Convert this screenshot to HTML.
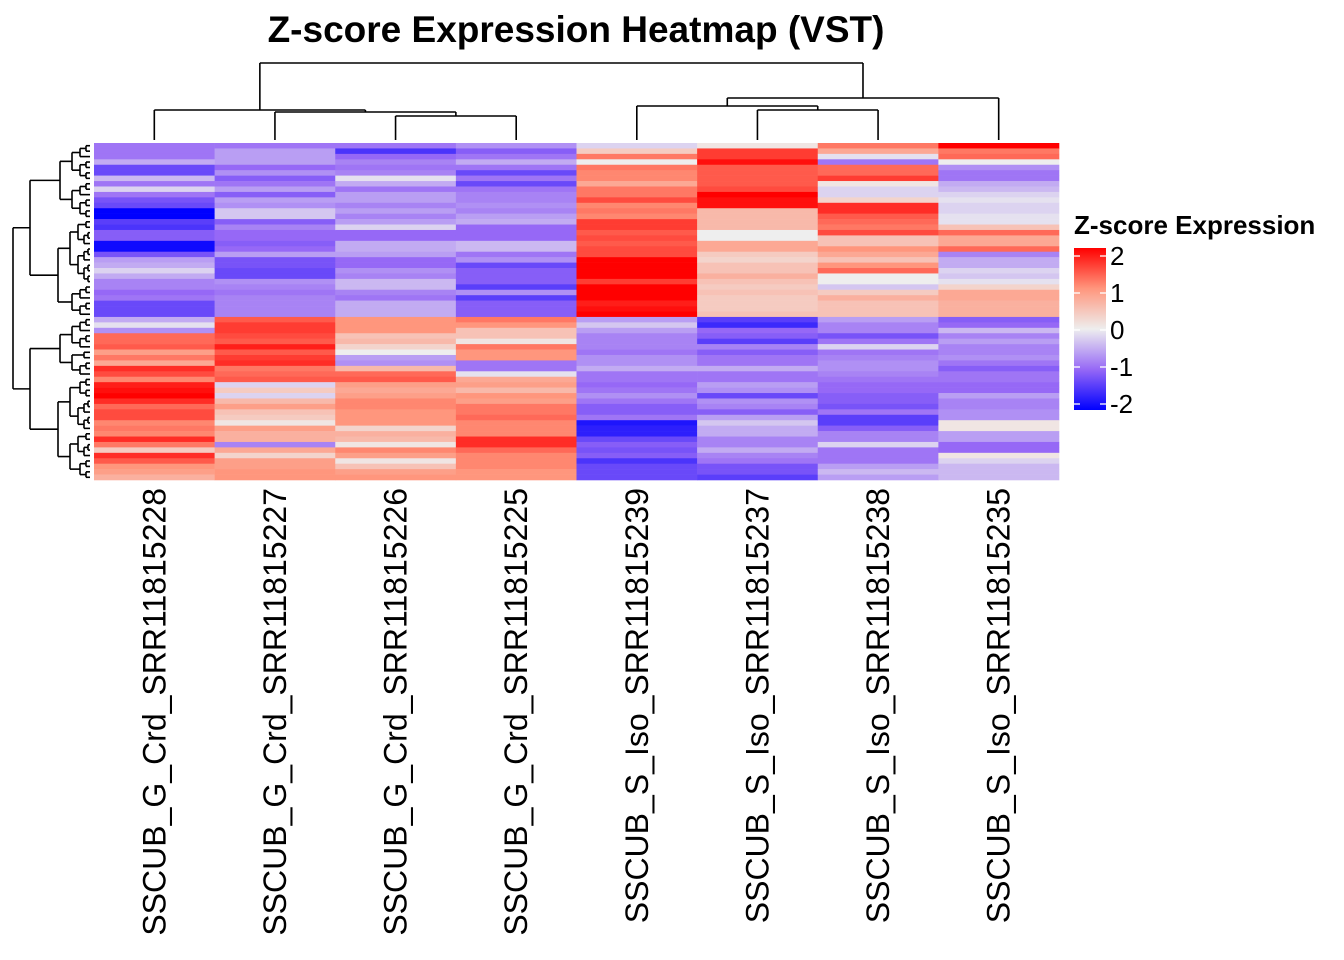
<!DOCTYPE html>
<html><head><meta charset="utf-8"><style>
body{margin:0;background:#fff;}
svg{display:block;font-family:"Liberation Sans",Arial,sans-serif;}
</style></head><body>
<svg id="chart" width="1344" height="960">
<text x="576" y="42" text-anchor="middle" font-size="37" font-weight="bold">Z-score Expression Heatmap (VST)</text>
<g id="cells"></g>
<g id="coldendro" stroke="#000" stroke-width="1.6" fill="none"></g>
<g id="rowdendro" stroke="#000" stroke-width="1.6" fill="none"></g>
<g id="labels"></g>
<g id="legend"></g>
</svg>
<script>
const samples=["SSCUB_G_Crd_SRR11815228","SSCUB_G_Crd_SRR11815227","SSCUB_G_Crd_SRR11815226","SSCUB_G_Crd_SRR11815225","SSCUB_S_Iso_SRR11815239","SSCUB_S_Iso_SRR11815237","SSCUB_S_Iso_SRR11815238","SSCUB_S_Iso_SRR11815235"];
const legendTicks=[2,1,0,-1,-2];
const col228=[-0.9,-0.9,-0.9,-0.5,-1.3,-1.3,-0.4,-0.9,-0.2,-0.9,-1.2,-1.3,-2,-2,-1.4,-1.5,-1.1,-1.1,-1.9,-1.9,-1.2,-0.6,-0.5,-0.2,-0.5,-0.8,-0.8,-1.0,-0.9,-1.3,-1.3,-1.3,
-0.5,-0.1,-0.7,1.3,1.3,1.4,0.9,1.2,0.8,1.7,1.5,1.1,1.8,1.9,2.0,1.7,1.3,1.5,1.5,1.1,1.2,1.1,1.7,1.2,0.4,1.7,1.4,1.0,0.9,0.7];
const col227=[-0.9,-0.6,-0.6,-0.6,-1.0,-0.7,-1.1,-0.9,-0.6,-1.1,-0.6,-0.7,-0.3,-0.3,-1.1,-0.8,-1.0,-1.0,-1.1,-1.0,-0.6,-1.2,-1.2,-1.3,-1.3,-0.7,-0.8,-0.9,-0.8,-0.8,-0.8,-0.8,
1.4,1.6,1.6,1.5,1.4,1.8,1.4,1.6,1.7,1.2,1.3,1.4,-0.2,0.4,-0.2,0.6,0.9,0.5,0.4,0.1,0.9,0.7,0.7,-0.8,0.8,0.3,0.9,0.9,1.0,1.0];
const col226=[-0.9,-1.5,-1.0,-0.8,-0.9,-0.8,-0.1,-0.5,-0.9,-0.6,-0.6,-0.8,-0.6,-0.8,-0.6,-0.2,-1.0,-1.0,-0.5,-0.5,-0.6,-1.0,-1.0,-0.7,-0.8,-0.4,-0.4,-0.8,-0.9,-0.5,-0.5,-0.5,
1.0,1.0,1.0,0.5,0.6,0.3,0.0,-0.6,-0.7,0.6,1.3,1.4,0.9,0.8,0.9,1.1,1.1,1.0,1.0,1.0,0.3,0.7,0.6,0.1,1.1,0.9,0.1,0.5,0.9,1.0];
const col225=[-0.7,-1.1,-0.9,-0.5,-0.9,-1.3,-0.9,-1.3,-0.9,-0.8,-0.8,-0.7,-0.8,-0.6,-0.5,-1.0,-1.0,-1.0,-0.4,-0.4,-0.9,-0.7,-1.3,-1.1,-1.1,-1.1,-1.4,-0.7,-1.4,-1.1,-1.1,-1.1,
1.2,1.0,0.5,0.5,0.1,1.2,1.0,1.0,-0.9,-0.9,-0.1,0.8,0.9,0.6,1.0,0.9,1.2,1.2,1.3,1.1,1.1,1.1,1.7,1.7,1.3,1.1,1.1,1.1,1.0,1.0];
const col239=[-0.2,0.4,1.2,0.0,1.2,1.1,1.1,0.8,1.2,1.2,1.5,1.1,1.2,1.1,1.6,1.6,1.4,1.5,1.4,1.5,1.5,2.0,2.0,2.0,2.0,1.6,2.0,2.0,2.0,1.8,1.9,2.0,
-0.6,-0.3,-0.6,-0.8,-0.8,-0.8,-0.9,-0.7,-0.7,-0.5,-0.9,-0.9,-1.0,-0.9,-0.7,-0.9,-1.1,-1.1,-0.9,-1.8,-1.7,-1.7,-1.3,-1.1,-1.2,-1.1,-1.5,-1.3,-1.3,-1.3];
const col237=[0.1,1.6,1.6,1.9,1.4,1.4,1.4,1.4,1.5,2.0,1.9,1.9,0.6,0.6,0.6,0.6,0.0,0.0,0.8,0.8,0.4,0.3,0.5,0.5,0.7,0.5,0.4,0.5,0.4,0.4,0.4,0.5,
-1.4,-1.6,-1.0,-1.1,-1.4,-0.8,-1.1,-0.9,-0.9,-0.5,-0.9,-0.9,-0.6,-0.7,-1.3,-0.7,-0.8,-1.1,-0.6,-0.3,-0.5,-0.5,-0.8,-0.8,-0.5,-0.8,-0.9,-1.2,-1.2,-1.4];
const col238=[1.2,0.8,-0.1,-0.9,1.3,1.3,1.6,0.1,-0.2,-0.2,0.3,1.7,1.7,1.4,1.3,1.2,1.5,0.5,0.5,1.0,0.8,0.5,1.0,1.3,0.0,0.0,-0.3,0.4,0.7,0.5,0.5,0.5,
-0.6,-0.8,-0.8,-1.2,-0.9,-0.2,-0.9,-0.8,-0.7,-0.7,-0.8,-0.9,-1.0,-1.0,-1.1,-1.1,-1.2,-0.9,-1.4,-1.4,-1.1,-0.8,-0.8,-0.2,-0.9,-0.9,-0.9,-0.6,-0.4,-0.6];
const col235=[2.0,1.2,1.3,0.0,-0.7,-0.9,-0.9,-0.5,-0.4,-0.2,-0.1,-0.2,-0.2,-0.1,-0.1,0.5,1.3,0.8,0.8,1.3,-0.8,-0.5,-0.5,-0.2,-0.3,-0.1,0.3,0.8,0.8,0.7,0.7,0.7,
-1.1,-1.0,-0.4,-0.8,-0.6,-0.8,-0.8,-0.7,-0.9,-1.1,-0.9,-0.9,-1.0,-1.0,-0.6,-0.8,-0.8,-0.7,-0.7,0.1,0.1,-0.6,-0.6,-1.0,-1.0,0.1,-0.2,-0.4,-0.4,-0.4];
const columns=[col228,col227,col226,col225,col239,col237,col238,col235];

const NS="http://www.w3.org/2000/svg";
const X0=94,X1=1059,Y0=143,Y1=480;
const nRows=col228.length,nCols=columns.length;
const cw=(X1-X0)/nCols,rh=(Y1-Y0)/nRows;
const xPos=i=>X0+i*cw, yPos=r=>Y0+r*rh;
const stops=[[-2,[0,0,255]],[-1,[150,104,246]],[0,[238,238,238]],[1,[255,150,125]],[2,[255,0,0]]];
function color(v){v=Math.max(-2,Math.min(2,v));for(let i=0;i<stops.length-1;i++){const[a,ca]=stops[i],[b,cb]=stops[i+1];if(v<=b){const t=(v-a)/(b-a);return`rgb(${ca.map((c,k)=>Math.round(c+(cb[k]-c)*t)).join(",")})`;}}return"rgb(255,0,0)";}
function mk(tag,attrs,parent){const e=document.createElementNS(NS,tag);for(const k in attrs)e.setAttribute(k,attrs[k]);parent.appendChild(e);return e;}
const cells=document.getElementById('cells');
columns.forEach((col,c)=>col.forEach((v,r)=>{
 const e=mk('rect',{x:xPos(c),y:yPos(r),width:cw+0.3,height:rh+0.3,fill:color(v)},cells);
 
 
}));
const cd=document.getElementById('coldendro');
const cx=i=>xPos(i)+cw/2;
function seg(g,x1,y1,x2,y2){mk('line',{x1,y1,x2,y2},g);}
function join(g,xa,ya,xb,yb,h){seg(g,xa,ya,xa,h);seg(g,xb,yb,xb,h);seg(g,xa,h,xb,h);return (xa+xb)/2;}
const leafY=140;
let m34=join(cd,cx(2),leafY,cx(3),leafY,116);
let m234=join(cd,cx(1),leafY,m34,116,112);
let mL=join(cd,cx(0),leafY,m234,112,110);
let m67=join(cd,cx(5),leafY,cx(6),leafY,110);
let m567=join(cd,cx(4),leafY,m67,110,106);
let mR=join(cd,m567,106,cx(7),leafY,98);
join(cd,mL,110,mR,98,63);
const rd=document.getElementById('rowdendro');
function tree(a,b,depth){
 if(b-a===1)return[yPos(a)+rh/2,90];
 let mid;
 if(depth===0)mid=32;else mid=a+Math.max(1,Math.round((b-a)*(0.35+0.3*(((a*7+b*3)%5)/4))));
 if(mid<=a)mid=a+1;if(mid>=b)mid=b-1;
 const L=tree(a,mid,depth+1),R=tree(mid,b,depth+1);
 const x=depth===0?13:Math.max(30,Math.min(L[1],R[1])-(depth<3?(depth===1?30:12):Math.max(2,14-depth*2)));
 seg(rd,L[1],L[0],x,L[0]);seg(rd,R[1],R[0],x,R[0]);seg(rd,x,L[0],x,R[0]);
 return[(L[0]+R[0])/2,x];
}
tree(0,nRows,0);
const lab=document.getElementById('labels');
samples.forEach((s,i)=>{
 const x=cx(i)+11;
 const t=mk('text',{x:0,y:0,transform:`translate(${x},488) rotate(-90)`,'text-anchor':'end','font-size':'32'},lab);
 t.textContent=s;
 
 
});
const lg=document.getElementById('legend');
const lt=mk('text',{x:1074,y:234,'font-size':'26','font-weight':'bold'},lg);lt.textContent='Z-score Expression';
const defs=mk('defs',{},lg);const gr=mk('linearGradient',{id:'lgd',x1:0,y1:0,x2:0,y2:1},defs);
for(let k=0;k<=20;k++){const v=2-4*k/20;mk('stop',{offset:k/20,'stop-color':color(v)},gr);}
const ly=v=>256+(2-v)*37;
mk('rect',{x:1074,y:248,width:32,height:162,fill:'url(#lgd)'},lg);
legendTicks.forEach(v=>{
 mk('line',{x1:1074,x2:1080,y1:ly(v),y2:ly(v),stroke:'#fff','stroke-width':1.3},lg);
 mk('line',{x1:1100,x2:1106,y1:ly(v),y2:ly(v),stroke:'#fff','stroke-width':1.3},lg);
 const t=mk('text',{x:1110,y:ly(v)+9,'font-size':'26'},lg);t.textContent=(v<0?'-':'')+Math.abs(v);
 
 
});
</script>
</body></html>
